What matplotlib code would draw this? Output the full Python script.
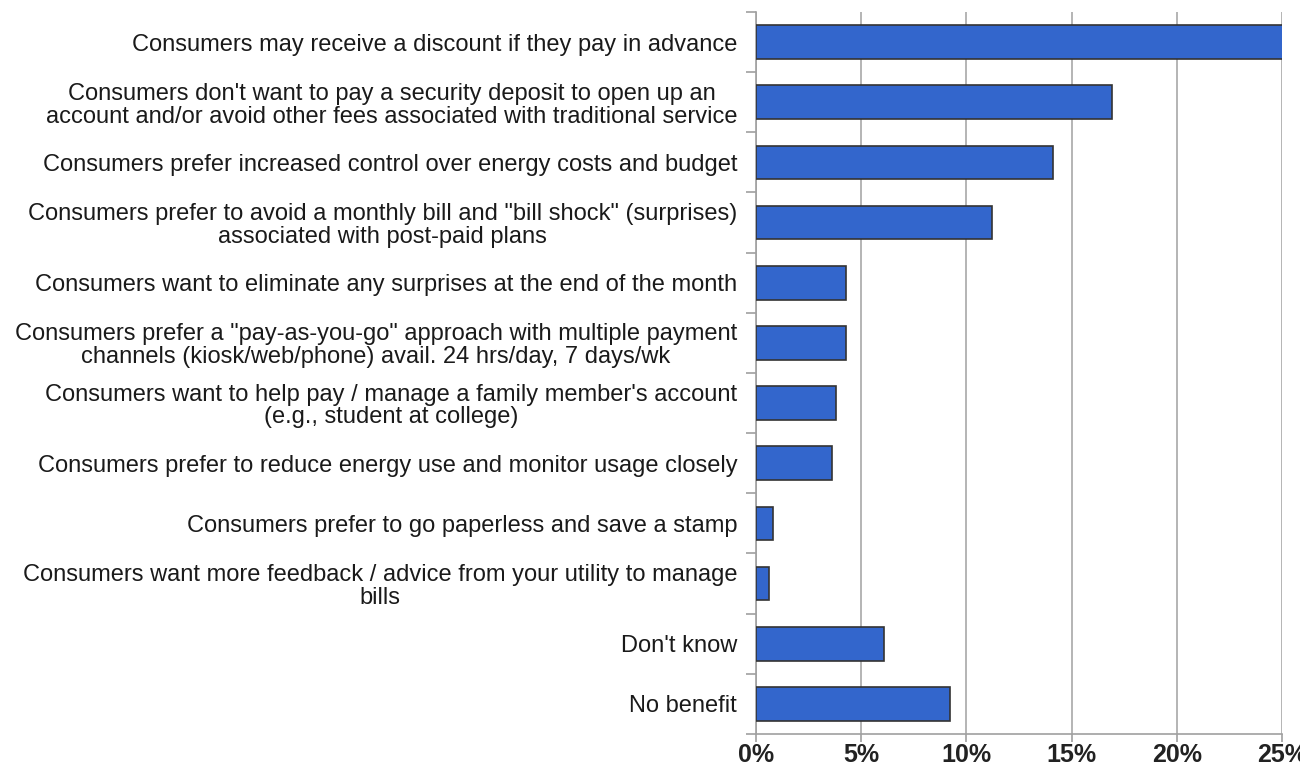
import matplotlib.pyplot as plt
import numpy as np
from matplotlib.ticker import FixedLocator, PercentFormatter

plt.rcParams['font.family'] = ['Liberation Sans', 'DejaVu Sans']

# Reasons consumers prefer prepaid service, top to bottom
reasons = [
    "Consumers may receive a discount if they pay in advance",
    "Consumers don't want to pay a security deposit to open up an\naccount and/or avoid other fees associated with traditional service",
    "Consumers prefer increased control over energy costs and budget",
    "Consumers prefer to avoid a monthly bill and \"bill shock\" (surprises)\nassociated with post-paid plans",
    "Consumers want to eliminate any surprises at the end of the month",
    "Consumers prefer a \"pay-as-you-go\" approach with multiple payment\nchannels (kiosk/web/phone) avail. 24 hrs/day, 7 days/wk",
    "Consumers want to help pay / manage a family member's account\n(e.g., student at college)",
    "Consumers prefer to reduce energy use and monitor usage closely",
    "Consumers prefer to go paperless and save a stamp",
    "Consumers want more feedback / advice from your utility to manage\nbills",
    "Don't know",
    "No benefit",
]
shares = [25.1, 16.9, 14.1, 11.2, 4.3, 4.3, 3.8, 3.6, 0.8, 0.6, 6.1, 9.2]
x_ticks = [0, 5, 10, 15, 20, 25]

fig = plt.figure(figsize=(13, 7.71), dpi=100)
ax = fig.add_axes([0.5815, 0.048, 0.4047, 0.9365])

y = np.arange(len(reasons))
ax.barh(y, shares, height=0.56, color='#3366cc', edgecolor='#333333', linewidth=1.2, zorder=3)

ax.set_ylim(len(reasons) - 0.5, -0.5)
ax.set_xlim(0, 25)

ax.set_yticks(y)
ax.set_yticklabels(reasons, fontsize=17, linespacing=1.05, color='#1a1a1a')
for lbl in ax.get_yticklabels():
    lbl.set_multialignment('center')
ax.tick_params(axis='y', which='major', length=0, pad=13.5)
ax.yaxis.set_minor_locator(FixedLocator(np.arange(-0.5, len(reasons), 1)))
ax.tick_params(axis='y', which='minor', length=7, color='#a0a0a0', width=1.2)

ax.xaxis.set_major_locator(FixedLocator(x_ticks))
ax.xaxis.set_major_formatter(PercentFormatter(decimals=0))
ax.tick_params(axis='x', length=6, color='#a0a0a0', width=1.2, labelsize=18, pad=0.5)
for lbl in ax.get_xticklabels():
    lbl.set_fontweight('bold')
    lbl.set_color('#222222')

ax.grid(axis='x', color='#a8a8a8', linewidth=1.2, zorder=0)
for side in ['top', 'right']:
    ax.spines[side].set_visible(False)
for side in ['left', 'bottom']:
    ax.spines[side].set_color('#a0a0a0')
    ax.spines[side].set_linewidth(1.2)

fig.savefig('out.png', dpi=100)
